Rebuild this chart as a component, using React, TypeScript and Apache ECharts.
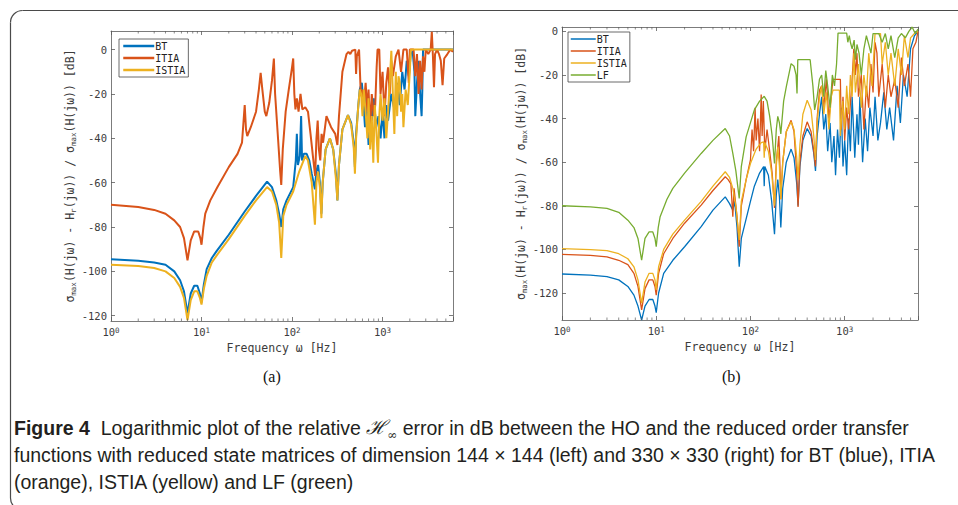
import React, { useEffect, useRef } from 'react';
import * as echarts from 'echarts';

// ---------- data (frequency [Hz], error [dB]) ----------
const leftBT: [number, number][] = [
  [1, -94.6], [2, -95.2], [3, -96], [4, -97], [5, -100], [5.8, -104], [6.4, -109], [7, -119], [7.6, -110], [8.3, -106.5], [9.0, -106.5], [9.6, -110], [10, -114], [10.6, -106], [11.4, -99], [13, -94], [14.6, -91], [20, -83.5], [30, -73], [40, -66], [53, -59.5], [60, -62], [67, -68], [72, -74], [76, -80], [80, -72], [87, -68], [103, -62], [110, -50], [113, -38], [116, -52], [122, -48], [126, -30], [129, -50], [135, -47], [145, -47], [155, -50], [165, -56], [179, -63], [185, -55], [194, -52], [203, -60], [211, -74], [218, -60], [235, -45], [262, -40], [285, -45], [305, -56], [317, -68], [330, -52], [360, -36], [415, -29.5], [450, -33], [480, -42], [495, -53], [510, -38], [540, -25], [560, -18], [590, -15], [610, -22], [640, -35], [660, -20], [700, -43], [730, -26], [760, -32], [800, -22], [850, -35], [900, -30], [950, -40], [1000, -28], [1050, -40], [1100, -25], [1150, -32], [1250, -20], [1350, -27], [1450, -15], [1550, -25], [1650, -10], [1750, -18], [1850, -5], [1950, -12], [2050, -2], [2150, -0.7], [2250, -10], [2300, -30], [2400, -15], [2500, -5], [2600, -20], [2700, -30], [2750, -18], [2800, 0], [6000, 0],
];
const leftITIA: [number, number][] = [
  [1, -70], [2, -71], [3, -72.3], [4, -74], [5, -77], [5.8, -80], [6.4, -85], [7, -95], [7.6, -86], [8.3, -82], [9.2, -82], [9.7, -85], [10, -88], [10.5, -80], [11, -74], [12.5, -68], [15, -62], [20, -53], [25, -47], [28, -42], [30, -25], [31, -36], [32, -39], [35, -35], [40, -28], [43, -18], [45, -10.5], [47, -18], [50, -28], [52, -30], [56, -24], [60, -14], [63, -4], [65, -20], [70, -40], [74, -55], [76, -61], [79, -45], [85, -28], [92, -18], [100, -8], [103, -4], [106, -20], [109, -27], [113, -22], [118, -28], [124, -20], [130, -27], [140, -26], [150, -28], [160, -38], [170, -48], [180, -57], [186, -40], [192, -32], [198, -45], [205, -50], [212, -38], [220, -42], [240, -30], [270, -35], [300, -38], [317, -43], [330, -30], [360, -10], [400, -2], [420, -1], [440, -2], [460, -0.5], [500, 0], [510, -11], [520, -3], [550, 0], [575, -20], [600, -18], [620, -25], [650, -15], [680, -28], [700, -18], [730, -35], [760, -20], [800, -30], [830, -25], [860, -8], [880, 0], [920, 0], [950, -20], [1000, -10], [1050, -30], [1100, -15], [1150, -8], [1200, -20], [1250, -5], [1300, -12], [1400, -3], [1500, 0], [1600, -10], [1700, 0], [1850, 0], [1950, -15], [2000, 0], [2200, 0], [2300, -12], [2400, -2], [2500, -20], [2600, -5], [2700, -18], [2800, -3], [2900, -10], [3000, 0], [3200, -2], [3400, 0], [3500, 8], [3600, -3], [3700, -17], [3800, -2], [4000, 0], [4200, -2], [4400, -5], [4600, -16], [4800, -4], [5200, -2], [5600, 0], [6000, -1],
];
const leftISTIA: [number, number][] = [
  [1, -97], [2, -97.6], [3, -98.5], [4, -100], [5, -103], [5.8, -107], [6.4, -112], [7, -122], [7.6, -113], [8.3, -109], [9.0, -109], [9.6, -112], [10, -115], [10.6, -108], [11.4, -102], [13, -96], [14.6, -93], [20, -85.5], [30, -75], [40, -68], [53, -62], [60, -64], [67, -70], [72, -78], [76, -94], [80, -75], [87, -70], [103, -64], [120, -55], [140, -48], [150, -50], [165, -60], [179, -79], [186, -60], [194, -55], [203, -62], [211, -76], [218, -60], [235, -45], [262, -40], [285, -45], [305, -58], [317, -68], [330, -52], [360, -36], [415, -29.5], [450, -34], [480, -44], [495, -56], [510, -40], [540, -25], [560, -18], [580, -20], [600, -30], [620, -18], [650, -28], [680, -40], [700, -22], [730, -45], [760, -30], [790, -51], [820, -25], [850, -35], [890, -51], [920, -30], [950, -20], [1000, -32], [1050, -22], [1100, -40], [1150, -28], [1200, -15], [1250, -0.5], [1300, -20], [1350, -38], [1400, -10], [1450, -30], [1500, -12], [1550, -15], [1600, -28], [1650, -20], [1700, -35], [1800, -18], [1900, -25], [2000, -10], [2050, 0], [6000, 0],
];

const rightBT: [number, number][] = [
  [1, -111.3], [2, -111.8], [3, -112.5], [4, -114], [5, -117], [5.8, -121], [6.4, -126], [7, -132.4], [7.6, -126], [8.4, -123], [9.2, -123], [9.7, -126], [10, -129], [10.6, -120], [12, -111], [15, -105], [20, -98.8], [30, -89.6], [40, -82], [54, -75.9], [60, -79], [65, -82], [68, -78], [72, -90], [76, -108], [80, -95], [90, -86], [100, -78], [110, -71], [125, -65], [138, -62], [140, -71], [142, -62], [155, -66], [168, -78], [180, -93], [188, -75], [195, -68], [203, -76], [210, -90], [220, -72], [240, -60], [270, -54], [290, -58], [310, -70], [320, -80], [335, -62], [360, -50], [400, -44.6], [440, -48], [470, -56], [490, -64], [510, -48], [540, -38], [570, -30], [600, -45], [630, -38], [660, -55], [700, -42], [730, -60], [770, -48], [800, -66], [840, -45], [880, -58], [920, -35], [960, -62], [1000, -50], [1050, -66], [1100, -40], [1150, -55], [1200, -30], [1280, -58], [1350, -38], [1400, -52], [1450, -30], [1550, -60], [1650, -40], [1750, -55], [1850, -35], [2000, -48], [2100, -30], [2250, -50], [2400, -42], [2600, -28], [2800, -45], [3000, -35], [3300, -50], [3600, -25], [3900, -42], [4200, -20], [4600, -30], [5000, -8], [5500, -2], [6000, 0],
];
const rightITIA: [number, number][] = [
  [1, -102.3], [2, -102.8], [3, -103.4], [4, -105], [5, -107], [5.8, -111], [6.4, -117], [7, -127.8], [7.6, -118], [8.4, -114], [9.2, -114], [9.7, -117], [10, -121], [10.6, -111], [12, -102], [15, -95], [20, -88], [30, -79.7], [40, -73], [54, -66.7], [58, -68], [62, -70], [65, -85], [67, -72], [72, -85], [76, -98.8], [80, -80], [90, -68], [100, -59], [104, -45], [108, -55], [112, -35], [115, -50], [120, -40], [125, -55], [130, -29], [133, -48], [137, -32], [142, -55], [150, -45], [160, -55], [170, -65], [180, -81], [188, -60], [200, -48], [205, -60], [210, -77], [220, -60], [240, -46], [270, -40.8], [290, -46], [310, -65], [320, -80.5], [335, -60], [360, -48], [400, -41.5], [440, -46], [470, -55], [490, -62], [510, -40], [540, -27], [570, -25], [600, -35], [640, -22], [680, -40], [720, -30], [750, -22], [800, -22], [900, -22], [920, -45], [960, -30], [1000, -50], [1050, -35], [1100, -45], [1200, -22], [1250, -8], [1300, -20], [1350, -10], [1400, -30], [1500, -20], [1600, -45], [1700, -25], [1800, -35], [1900, -15], [2000, -28], [2100, -5], [2200, -10], [2300, -30], [2500, -15], [2700, -35], [2900, -20], [3100, -30], [3400, -22], [3700, -35], [4000, -12], [4300, -25], [4700, -15], [5000, -30], [5300, -8], [5700, -5], [6000, 0],
];
const rightISTIA: [number, number][] = [
  [1, -99.7], [2, -100.1], [3, -100.6], [4, -102], [5, -104.3], [5.8, -108], [6.4, -114], [7, -124.7], [7.6, -115], [8.4, -111], [9.2, -111], [9.7, -114], [10, -118.6], [10.6, -108], [12, -100], [15, -93], [20, -86.6], [30, -78], [40, -71], [54, -64.4], [60, -67], [65, -72], [70, -80], [76, -95.7], [80, -78], [90, -68], [100, -60.6], [115, -54], [130, -51], [138, -50.7], [140, -58], [142, -51], [155, -55], [168, -65], [180, -80], [188, -62], [195, -53], [203, -62], [210, -77], [220, -60], [240, -46], [270, -41.5], [290, -45], [310, -58], [320, -68], [335, -52], [360, -38], [400, -31.6], [440, -36], [470, -48], [490, -59], [510, -42], [540, -30], [570, -25], [600, -38], [640, -28], [680, -45], [720, -30], [750, -27], [800, -27], [880, -27], [900, -48], [950, -32], [1000, -45], [1050, -25], [1100, -38], [1150, -20], [1200, -30], [1250, -10], [1300, -28], [1400, -15], [1500, -35], [1600, -20], [1700, -30], [1800, -10], [1950, -25], [2100, -1], [2400, -1], [2500, -15], [2700, -5], [2900, -20], [3100, -10], [3400, -25], [3700, -8], [4000, -20], [4300, -2], [4700, -12], [5000, -3], [5500, -1], [6000, 0],
];
const rightLF: [number, number][] = [
  [1, -80], [2, -80.5], [3, -81.2], [4, -83], [5, -86.6], [5.8, -90], [6.4, -95], [7, -105], [7.6, -95], [8.4, -92], [9.2, -92], [9.7, -95], [10, -98.8], [10.5, -90], [11, -85], [13, -77], [15, -72], [20, -65], [30, -56], [40, -50], [54, -44.6], [60, -48], [65, -56], [70, -64], [76, -76.6], [80, -62], [90, -48.4], [110, -36], [125, -32], [140, -29.8], [150, -32], [160, -39], [170, -48], [180, -60.6], [188, -45], [195, -39], [203, -42], [210, -47], [225, -32], [240, -25.5], [270, -14.8], [290, -16], [305, -20], [312, -28.5], [318, -13], [430, -13], [460, -25], [480, -36], [510, -30], [540, -22], [570, -20], [600, -30], [630, -18], [660, -25], [700, -35], [740, -20], [780, -25], [820, -15], [850, -0.8], [1050, -0.8], [1080, -5], [1120, -2], [1150, -5], [1200, -8], [1260, -4], [1300, -13], [1350, -6], [1420, -10], [1500, -20], [1600, -8], [1700, -2], [1800, -6], [1900, -10], [2000, -1], [2300, -1], [2500, -5], [2700, -1], [2900, -8], [3100, -2], [3400, -12], [3700, -3], [4000, -1], [4400, -3], [4800, 0], [5200, 2], [5600, -1], [6000, 1],
];

const yTickValues = [-120, -100, -80, -60, -40, -20, 0];
const minorTickFreqs = [2, 3, 4, 5, 6, 7, 8, 9, 20, 30, 40, 50, 60, 70, 80, 90, 200, 300, 400, 500, 600, 700, 800, 900, 2000, 3000, 4000, 5000];
const seriesNamesLeft = ['BT', 'ITIA', 'ISTIA'];
const seriesNamesRight = ['BT', 'ITIA', 'ISTIA', 'LF'];

const C = { BT: '#0072BD', ITIA: '#D95319', ISTIA: '#EDB120', LF: '#77AC30' };
const MONO = '"DejaVu Sans Mono", monospace';
const AX = '#5a5a5a';
const TXT = '#3c3c3c';

const X_MIN = 1, X_MAX = 6000;
const L_YMIN = -122.4, L_YMAX = 8.4;
const R_YMIN = -132.4, R_YMAX = 2;

function xLabel(v: number) {
  const e = Math.log10(v);
  const n = Math.round(e);
  if (Math.abs(e - n) < 1e-6 && n >= 0 && n <= 3) return '10{sup|' + n + '}';
  return '';
}

function makeAxes(grid: number, ymin: number, ymax: number) {
  const tickLine = { color: AX, width: 0.8 };
  const xs = [
    {
      gridIndex: grid, type: 'log', logBase: 10, min: X_MIN, max: X_MAX, position: 'bottom',
      axisLine: { show: true, onZero: false, lineStyle: tickLine },
      axisTick: { show: true, inside: true, length: 4, lineStyle: tickLine },
      axisLabel: {
        formatter: xLabel, fontFamily: MONO, fontSize: 10.5, color: TXT, margin: 5,
        rich: { sup: { fontSize: 7.5, fontFamily: MONO, color: TXT, verticalAlign: 'top', lineHeight: 8 } },
      },
      splitLine: { show: false },
      name: 'Frequency ω [Hz]', nameLocation: 'middle', nameGap: 21,
      nameTextStyle: { fontFamily: MONO, fontSize: 11.5, color: TXT },
    },
    {
      gridIndex: grid, type: 'log', logBase: 10, min: X_MIN, max: X_MAX, position: 'top',
      axisLine: { show: true, onZero: false, lineStyle: tickLine },
      axisTick: { show: true, inside: true, length: 4, lineStyle: tickLine },
      axisLabel: { show: false }, splitLine: { show: false },
    },
  ];
  const ys = [
    {
      gridIndex: grid, type: 'value', min: ymin, max: ymax, position: 'left',
      axisLine: { show: true, onZero: false, lineStyle: tickLine },
      axisTick: { show: true, inside: true, length: 4, lineStyle: tickLine, customValues: yTickValues },
      axisLabel: { fontFamily: MONO, fontSize: 10.5, color: TXT, margin: 4, customValues: yTickValues },
      splitLine: { show: false },
      name: '{t|σ}{s|max}{t|(H(jω) - H}{s|r}{t|(jω)) / σ}{s|max}{t|(H(jω)) [dB]}',
      nameLocation: 'middle', nameRotate: 90, nameGap: 33,
      nameTextStyle: {
        fontFamily: MONO, fontSize: 11.5, color: TXT,
        rich: {
          t: { fontFamily: MONO, fontSize: 11.5, color: TXT, lineHeight: 16 },
          s: { fontFamily: MONO, fontSize: 7.5, color: TXT, lineHeight: 8, verticalAlign: 'bottom' },
        },
      },
    },
    {
      gridIndex: grid, type: 'value', min: ymin, max: ymax, position: 'right',
      axisLine: { show: true, onZero: false, lineStyle: tickLine },
      axisTick: { show: true, inside: true, length: 4, lineStyle: tickLine, customValues: yTickValues },
      axisLabel: { show: false }, splitLine: { show: false },
    },
  ];
  return { xs, ys };
}

function minorTicks(xIdx: number, yIdx: number, ymin: number, ymax: number) {
  return {
    type: 'custom', xAxisIndex: xIdx, yAxisIndex: yIdx, silent: true, z: 5,
    data: minorTickFreqs.map((f) => [f, ymin]),
    renderItem: (_p: any, api: any) => {
      const f = api.value(0);
      const b = api.coord([f, ymin]);
      const t = api.coord([f, ymax]);
      const st = { stroke: AX, lineWidth: 0.7 };
      return {
        type: 'group',
        children: [
          { type: 'line', shape: { x1: b[0], y1: b[1], x2: b[0], y2: b[1] - 2.5 }, style: st },
          { type: 'line', shape: { x1: t[0], y1: t[1], x2: t[0], y2: t[1] + 2.5 }, style: st },
        ],
      };
    },
  };
}

function line(name: string, data: [number, number][], xIdx: number, yIdx: number, width: number) {
  return {
    type: 'line', name, data, xAxisIndex: xIdx, yAxisIndex: yIdx,
    symbol: 'none', showSymbol: false, clip: true, legendIcon: 'none',
    lineStyle: { color: (C as any)[name], width },
    itemStyle: { color: (C as any)[name] },
  };
}

export default function App() {
  const ref = useRef<HTMLDivElement>(null);
  useEffect(() => {
    if (!ref.current) return;
    const chart = echarts.init(ref.current, null, { renderer: 'svg' });
    const a = makeAxes(0, L_YMIN, L_YMAX);
    const b = makeAxes(1, R_YMIN, R_YMAX);
    const legendBase = {
      orient: 'vertical',
      backgroundColor: '#fff', borderColor: '#444', borderWidth: 0.8,
      itemGap: 2, itemHeight: 10,
      itemStyle: { opacity: 0 },
      textStyle: { fontFamily: MONO, fontSize: 10, color: '#222', padding: [0, 0, 0, -4] },
    };
    chart.setOption({
      animation: false,
      backgroundColor: '#fff',
      grid: [
        { left: 111, top: 31, width: 342, height: 290, containLabel: false },
        { left: 562, top: 27, width: 356, height: 293, containLabel: false },
      ],
      xAxis: [...a.xs, ...b.xs],
      yAxis: [...a.ys, ...b.ys],
      legend: [
        {
          ...legendBase, left: 119, top: 39, padding: [2, 3, 2, 3],
          itemWidth: 31, data: seriesNamesLeft, lineStyle: { width: 2.5 },
        },
        {
          ...legendBase, left: 568, top: 32, padding: [2, 3, 2, 2],
          itemWidth: 25, data: seriesNamesRight, lineStyle: { width: 1.5 },
        },
      ],
      series: [
        line('BT', leftBT, 0, 0, 2),
        line('ITIA', leftITIA, 0, 0, 2),
        line('ISTIA', leftISTIA, 0, 0, 2),
        minorTicks(0, 0, L_YMIN, L_YMAX),
        line('BT', rightBT, 2, 2, 1.3),
        line('ITIA', rightITIA, 2, 2, 1.3),
        line('ISTIA', rightISTIA, 2, 2, 1.3),
        line('LF', rightLF, 2, 2, 1.3),
        minorTicks(2, 2, R_YMIN, R_YMAX),
      ],
      graphic: [
        {
          type: 'polyline', silent: true, z: -10,
          shape: { points: [[10.5, 498], [10.5, 22.5]] },
          style: { fill: 'none', stroke: '#4a4a4a', lineWidth: 1.2 },
        },
        {
          type: 'arc', silent: true, z: -10,
          shape: { cx: 22.5, cy: 22.5, r: 12, startAngle: Math.PI, endAngle: Math.PI * 1.5 },
          style: { fill: 'none', stroke: '#4a4a4a', lineWidth: 1.2 },
        },
        {
          type: 'polyline', silent: true, z: -10,
          shape: { points: [[22.5, 10.5], [958, 10.5]] },
          style: { fill: 'none', stroke: '#4a4a4a', lineWidth: 1.2 },
        },
        {
          type: 'arc', silent: true, z: -10,
          shape: { cx: 22.5, cy: 498, r: 12, startAngle: Math.PI * 0.5, endAngle: Math.PI },
          style: { fill: 'none', stroke: '#4a4a4a', lineWidth: 1.2 },
        },
        {
          type: 'text', left: 263, top: 368,
          style: { text: '(a)', font: '16px "Liberation Serif", "DejaVu Serif", serif', fill: '#111' },
        },
        {
          type: 'text', left: 722, top: 368,
          style: { text: '(b)', font: '16px "Liberation Serif", "DejaVu Serif", serif', fill: '#111' },
        },
        {
          type: 'text', left: 14, top: 414,
          style: {
            text:
              '{b|Figure 4}  Logarithmic plot of the relative {m|ℋ}{i|∞} error in dB between the HO and the reduced order transfer\n' +
              'functions with reduced state matrices of dimension 144 × 144 (left) and 330 × 330 (right) for BT (blue), ITIA\n' +
              '(orange), ISTIA (yellow) and LF (green)',
            font: '19.5px "Liberation Sans", sans-serif',
            fill: '#231f20',
            lineHeight: 27,
            rich: {
              b: { font: 'bold 19.5px "Liberation Sans", sans-serif', fill: '#231f20', lineHeight: 27 },
              m: { font: 'italic 19.5px "DejaVu Serif", serif', fill: '#231f20', lineHeight: 27 },
              i: { font: '12px "DejaVu Serif", serif', fill: '#231f20', lineHeight: 10, verticalAlign: 'bottom' },
            },
          },
        },
      ],
    });
    return () => chart.dispose();
  }, []);
  return (
    <div
      ref={ref}
      style={{ position: 'fixed', left: 0, top: 0, width: 958, height: 505, background: '#fff' }}
    />
  );
}
